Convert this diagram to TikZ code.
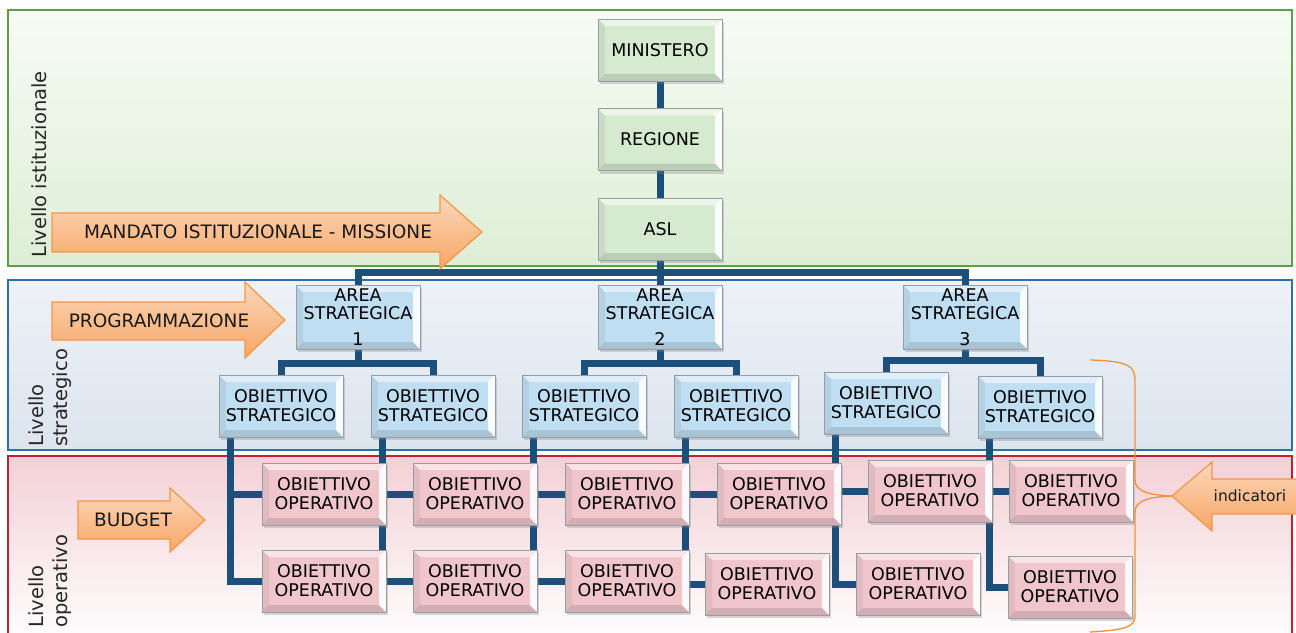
\documentclass[tikz,border=0pt]{standalone}
\usepackage{fontspec}
\setmainfont{DejaVu Sans}
\usetikzlibrary{positioning,shadows}

\definecolor{istline}{RGB}{90,160,70}
\definecolor{istbg}{RGB}{222,238,214}
\definecolor{istbgtop}{RGB}{247,251,245}
\definecolor{strline}{RGB}{46,110,170}
\definecolor{strbg}{RGB}{220,228,238}
\definecolor{strbgtop}{RGB}{238,242,247}
\definecolor{opline}{RGB}{200,30,50}
\definecolor{opbg}{RGB}{243,208,214}
\definecolor{istface}{RGB}{214,234,208}
\definecolor{strface}{RGB}{192,222,242}
\definecolor{opface}{RGB}{240,198,204}
\definecolor{boxline}{RGB}{150,158,165}
\definecolor{linkblue}{RGB}{28,80,122}
\definecolor{arrowline}{RGB}{245,150,70}
\definecolor{arrowtop}{RGB}{252,216,188}
\definecolor{arrowbot}{RGB}{248,166,100}
\definecolor{braceline}{RGB}{245,145,50}

\pgfdeclarelayer{bands}
\pgfdeclarelayer{links}
\pgfsetlayers{bands,links,main}

\tikzset{
  bevel/.style={path picture={
    \fill[white,opacity=.5] (path picture bounding box.north west) -- (path picture bounding box.north east)
      -- ([shift={(-7pt,-7pt)}]path picture bounding box.north east) -- ([shift={(7pt,-7pt)}]path picture bounding box.north west) -- cycle;
    \fill[white,opacity=.9] (path picture bounding box.north east) -- (path picture bounding box.south east)
      -- ([shift={(-7pt,7pt)}]path picture bounding box.south east) -- ([shift={(-7pt,-7pt)}]path picture bounding box.north east) -- cycle;
    \fill[black,opacity=.12] (path picture bounding box.south east) -- (path picture bounding box.south west)
      -- ([shift={(7pt,7pt)}]path picture bounding box.south west) -- ([shift={(-7pt,7pt)}]path picture bounding box.south east) -- cycle;
    \fill[black,opacity=.06] (path picture bounding box.south west) -- (path picture bounding box.north west)
      -- ([shift={(7pt,-7pt)}]path picture bounding box.north west) -- ([shift={(7pt,7pt)}]path picture bounding box.south west) -- cycle;
  }},
  orgbox/.style={rectangle, draw=boxline, line width=.6pt, minimum width=124pt, minimum height=62pt,
    inner sep=1pt, align=center, text=black, font=\fontsize{17.5}{19}\selectfont,
    drop shadow={opacity=.3, shadow xshift=2pt, shadow yshift=-3pt}, bevel},
  istbox/.style={orgbox, fill=istface},
  strbox/.style={orgbox, fill=strface},
  opbox/.style={orgbox, fill=opface},
  link/.style={draw=linkblue, line width=7pt},
  flow/.style={draw=arrowline, line width=1.2pt, top color=arrowtop, bottom color=arrowbot},
  flowtext/.style={font=\fontsize{18.5}{20}\selectfont, text=black!90, inner sep=0pt},
  level/.style={rotate=90, anchor=west, align=left, inner sep=0pt, text=black!85,
    font=\fontsize{19.5}{24}\selectfont},
}

\begin{document}
\begin{tikzpicture}[x=1pt,y=-1pt]
  \useasboundingbox (0,0) rectangle (1296,632);

  % fasce dei livelli
  \begin{pgfonlayer}{bands}
    \fill[white] (0,0) rectangle (1296,632);
    \path[draw=istline, line width=1.5pt, top color=istbgtop, bottom color=istbg] (8,10) rectangle (1292,266);
    \path[draw=strline, line width=1.5pt, top color=strbgtop, bottom color=strbg] (8,280) rectangle (1292,450);
    \path[draw=opline, line width=1.2pt, top color=opbg, bottom color=white] (8,456) rectangle (1292,645);
  \end{pgfonlayer}

  \node[level] (lvist) at (39,258) {Livello istituzionale};
  \node[level] (lvstr) at (50,447) {Livello\\strategico};
  \node[level] (lvop) at (50,628) {Livello\\operativo};

  % livello istituzionale
  \node[istbox] (min) at (660,50) {MINISTERO};
  \node[istbox, below=27pt of min] (reg) {REGIONE};
  \node[istbox, below=27pt of reg] (asl) {ASL};

  % aree strategiche
  \node[strbox, minimum height=64pt, font=\fontsize{17.5}{18}\selectfont] (area1) at (358,317) {AREA\\STRATEGICA\\[8pt]1};
  \node[strbox, minimum height=64pt, font=\fontsize{17.5}{18}\selectfont] (area2) at (660,317) {AREA\\STRATEGICA\\[8pt]2};
  \node[strbox, minimum height=64pt, font=\fontsize{17.5}{18}\selectfont] (area3) at (965,317) {AREA\\STRATEGICA\\[8pt]3};

  % obiettivi strategici
  \node[strbox] (os1) at (281,406) {OBIETTIVO\\STRATEGICO};
  \node[strbox] (os2) at (433,406) {OBIETTIVO\\STRATEGICO};
  \node[strbox] (os3) at (584,406) {OBIETTIVO\\STRATEGICO};
  \node[strbox] (os4) at (736,406) {OBIETTIVO\\STRATEGICO};
  \node[strbox] (os5) at (886,403) {OBIETTIVO\\STRATEGICO};
  \node[strbox] (os6) at (1040,407) {OBIETTIVO\\STRATEGICO};

  % obiettivi operativi
  \node[opbox] (opa1) at (324,494) {OBIETTIVO\\OPERATIVO};
  \node[opbox] (opa2) at (475,494) {OBIETTIVO\\OPERATIVO};
  \node[opbox] (opa3) at (627,494) {OBIETTIVO\\OPERATIVO};
  \node[opbox] (opa4) at (779,494) {OBIETTIVO\\OPERATIVO};
  \node[opbox] (opa5) at (930,491) {OBIETTIVO\\OPERATIVO};
  \node[opbox] (opa6) at (1071,491) {OBIETTIVO\\OPERATIVO};
  \node[opbox] (opb1) at (324,581) {OBIETTIVO\\OPERATIVO};
  \node[opbox] (opb2) at (475,581) {OBIETTIVO\\OPERATIVO};
  \node[opbox] (opb3) at (627,581) {OBIETTIVO\\OPERATIVO};
  \node[opbox] (opb4) at (767,584) {OBIETTIVO\\OPERATIVO};
  \node[opbox] (opb5) at (918,584) {OBIETTIVO\\OPERATIVO};
  \node[opbox] (opb6) at (1070,587) {OBIETTIVO\\OPERATIVO};

  % collegamenti
  \begin{pgfonlayer}{links}
    \draw[link] (min) -- (reg) (reg) -- (asl) (asl) -- (area2);
    \draw[link] (asl.south) -- ++(0,12) -| (area1.north);
    \draw[link] (asl.south) -- ++(0,12) -| (area3.north);
    \draw[link] (area1.south) -- ++(0,14) -| (os1.north);
    \draw[link] (area1.south) -- ++(0,14) -| (os2.north);
    \draw[link] (area2.south) -- ++(0,14) -| (os3.north);
    \draw[link] (area2.south) -- ++(0,14) -| (os4.north);
    \draw[link] (area3.south) -- ++(0,11) -| (os5.north);
    \draw[link] (area3.south) -- ++(0,11) -| (os6.north);
    \foreach \i in {1,...,6} {
      \draw[link] ([xshift=12pt]os\i.south west) |- (opa\i.west);
      \draw[link] ([xshift=12pt]os\i.south west) |- (opb\i.west);
    }
  \end{pgfonlayer}

  % frecce
  \path[flow] (52,213) -- (440,213) -- (440,195) -- (482,232) -- (440,269) -- (440,252) -- (52,252) -- cycle;
  \node[flowtext] (mandato) at (258,232) {MANDATO ISTITUZIONALE - MISSIONE};
  \path[flow] (52,302) -- (245,302) -- (245,282) -- (285,320) -- (245,358) -- (245,340) -- (52,340) -- cycle;
  \node[flowtext] (progr) at (159,321) {PROGRAMMAZIONE};
  \path[flow] (78,501) -- (170,501) -- (170,488) -- (205,520) -- (170,552) -- (170,539) -- (78,539) -- cycle;
  \node[flowtext] (budget) at (133,520) {BUDGET};
  \coordinate (indtip) at (1172,496);
  \path[flow] (indtip) -- (1212,462) -- (1212,479) -- (1310,479) -- (1310,514) -- (1212,514) -- (1212,531) -- cycle;
  \node[flowtext, font=\fontsize{15.5}{18}\selectfont] (indic) at (1250,496) {indicatori};

  % graffa
  \draw[braceline, line width=1.3pt] (1090,360) .. controls (1128,361) and (1135,366) .. (1135,380)
    -- (1135,480) .. controls (1135,492) and (1150,495) .. (indtip)
    .. controls (1150,497) and (1135,500) .. (1135,512)
    -- (1135,616) .. controls (1135,627) and (1125,630) .. (1090,632);
\end{tikzpicture}
\end{document}
